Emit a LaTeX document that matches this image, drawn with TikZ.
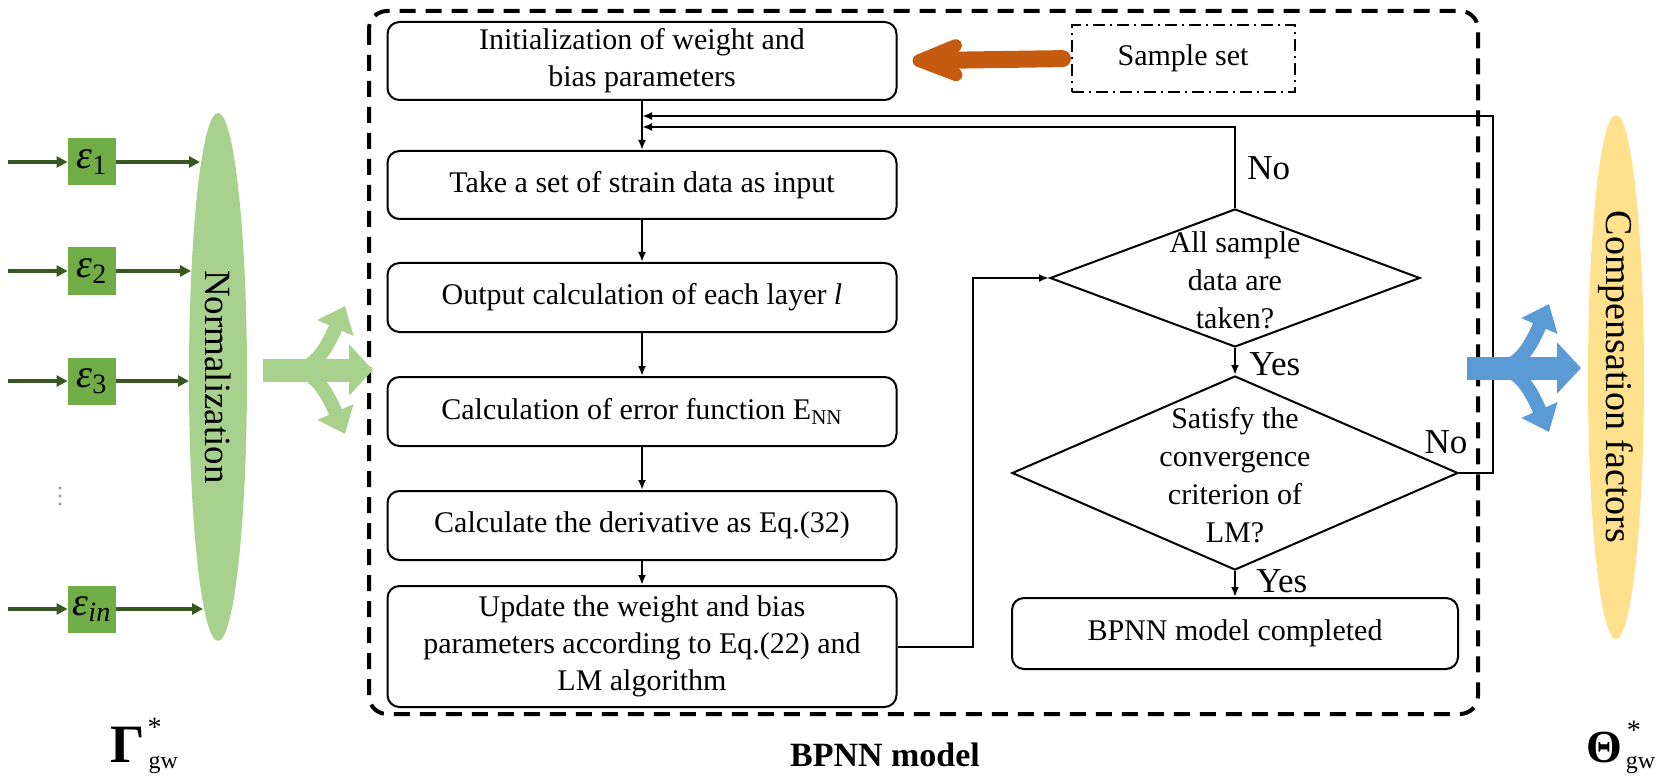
\documentclass[tikz,border=0pt]{standalone}
\usepackage{fontspec}
\setmainfont{Liberation Serif}
\usetikzlibrary{arrows.meta,shapes.geometric,calc}
\definecolor{epsfill}{HTML}{70AD47}
\definecolor{epsline}{HTML}{385723}
\definecolor{normfill}{HTML}{A9D18E}
\definecolor{compfill}{HTML}{FFE08C}
\definecolor{bluearr}{HTML}{5B9BD5}
\definecolor{orangearr}{HTML}{C55A11}
\newcommand{\myeps}[1]{{\itshape ε}\textsubscript{#1}}
\tikzset{
  box/.style={draw, rounded corners=6pt, line width=1pt, minimum width=254.5pt, align=center,
    font=\fontsize{15}{18.5}\selectfont, inner sep=0pt},
  dia/.style={draw, diamond, line width=1pt, inner sep=0pt},
  dtext/.style={align=center, font=\fontsize{15}{19}\selectfont, inner sep=0pt},
  flow/.style={line width=1pt, -{Latex[length=5pt,width=4pt]}},
  lbl/.style={font=\fontsize{17.5}{17.5}\selectfont, inner sep=0pt},
  epsbox/.style={fill=epsfill, minimum width=24pt, minimum height=23.5pt, inner sep=0pt,
    font=\fontsize{20}{20}\selectfont},
  garrow/.style={draw=epsline, line width=1.6pt, -{Triangle[length=5.5pt,width=5.5pt]}},
  frame/.style={line width=2pt, dash pattern=on 8pt off 5pt, rounded corners=9pt},
  supl/.style={inner sep=0pt, font=\fontsize{14}{14}\selectfont},
  subl/.style={inner sep=0pt, font=\fontsize{12}{12}\selectfont},
}
\begin{document}
\begin{tikzpicture}[x=0.5pt,y=-0.5pt]
\useasboundingbox (0,0) rectangle (1662,781);

% frame
\draw[frame] (369,11) rectangle (1478,714);

% left column boxes
\node[box, minimum height=39pt] (init) at (642,61) {Initialization of weight and\\bias parameters};
\node[box, minimum height=34pt] (take) at (642,185) {Take a set of strain data as input};
\node[box, minimum height=34.5pt] (out) at (642,297.5) {Output calculation of each layer \textit{l}};
\node[box, minimum height=34.5pt] (err) at (642,411.5) {Calculation of error function E\textsubscript{NN}};
\node[box, minimum height=34.5pt] (der) at (642,525.5) {Calculate the derivative as Eq.(32)};
\node[box, minimum height=60.5pt] (upd) at (642,646.5) {Update the weight and bias\\parameters according to Eq.(22) and\\LM algorithm};

% sample set
\node[draw, line width=1pt, dash pattern=on 6pt off 2.5pt on 1pt off 2.5pt,
  minimum width=111.5pt, minimum height=33.5pt, inner sep=0pt,
  font=\fontsize{15}{15}\selectfont] (sample) at (1183,58.5) {Sample set};
\draw[orangearr, line width=8.5pt, line cap=round, shorten <=4pt, shorten >=7.5pt,
  -{Stealth[length=37pt,width=29pt,inset=12pt,round]}] (sample.west) -- (init.east);

% right column
\node[dia, minimum width=185pt, minimum height=69pt] (d1) at (1235,278) {};
\node[dtext] (d1t) at (1235,280) {All sample\\data are\\taken?};
\node[dia, minimum width=223pt, minimum height=97pt] (d2) at (1235,473) {};
\node[dtext] (d2t) at (1235,475) {Satisfy the\\convergence\\criterion of\\LM?};
\node[box, minimum width=223pt, minimum height=35.5pt] (done) at (1235,633.5) {BPNN model completed};

% flow arrows
\draw[flow] (init.south) -- (take.north);
\draw[flow] (take.south) -- (out.north);
\draw[flow] (out.south) -- (err.north);
\draw[flow] (err.south) -- (der.north);
\draw[flow] (der.south) -- (upd.north);
\coordinate (fx) at (973,0);
\draw[flow] (upd.east) -| (fx |- d1.west) -- (d1.west);
\draw[flow] (d1.south) -- (d2.north);
\draw[flow] (d2.south) -- (done.north);
\coordinate (nn) at (1235,127);
\draw[flow] (d1.north) -- (nn) -- (nn -| init.south);
\coordinate (rr) at (1493,116);
\draw[flow] (d2.east) -| (rr) -- (rr -| init.south);

\node[lbl, anchor=west] (no1) at (1247,168) {No};
\node[lbl] (no2) at (1446,442) {No};
\node[lbl, anchor=west] (yes1) at (1249,364) {Yes};
\node[lbl, anchor=west] (yes2) at (1256,581) {Yes};

% left inputs
\node[epsbox] (e1) at (92,162) {\myeps{1}};
\node[epsbox] (e2) at (92,271) {\myeps{2}};
\node[epsbox] (e3) at (92,381) {\myeps{3}};
\node[epsbox] (e4) at (92,609) {\myeps{\itshape in}};
\foreach \yy in {488,496,504}{\fill[gray!80] (60,\yy) circle (0.8pt);}

\node[ellipse, fill=normfill, minimum width=29pt, minimum height=264pt, inner sep=0pt] (norm) at (218,377) {};
\node[rotate=-90, font=\fontsize{18.5}{18.5}\selectfont] (normt) at (norm.center) {Normalization};

\coordinate (i1) at (8,162); \coordinate (i2) at (8,271);
\coordinate (i3) at (8,381); \coordinate (i4) at (8,609);
\coordinate (a1) at (200,162); \coordinate (a2) at (191,271);
\coordinate (a3) at (189,381); \coordinate (a4) at (203,609);
\foreach \k in {1,2,3,4}{
  \draw[garrow] (i\k) -- (e\k.west);
  \draw[garrow] (e\k.east) -- (a\k);
}

% green fork arrow
\draw[normfill, line width=11.5pt, -{Triangle[length=12pt,width=25pt]}] (263,370) -- (373,370);
\draw[normfill, line width=7pt, -{Triangle[length=12pt,width=19pt]}] (292,370) .. controls (316,370) and (328,345) .. (345,306);
\draw[normfill, line width=7pt, -{Triangle[length=12pt,width=19pt]}] (292,370) .. controls (316,370) and (328,395) .. (345,434);

% compensation
\node[ellipse, fill=compfill, minimum width=28pt, minimum height=262pt, inner sep=0pt] (comp) at (1616,377) {};
\node[rotate=-90, font=\fontsize{19}{19}\selectfont] (compt) at (comp.center) {Compensation factors};

% blue fork arrow
\draw[bluearr, line width=11.5pt, -{Triangle[length=12pt,width=25pt]}] (1467,368) -- (1581,368);
\draw[bluearr, line width=7pt, -{Triangle[length=12pt,width=19pt]}] (1496,368) .. controls (1520,368) and (1532,343) .. (1549,304);
\draw[bluearr, line width=7pt, -{Triangle[length=12pt,width=19pt]}] (1496,368) .. controls (1520,368) and (1532,393) .. (1549,432);

% bottom labels
\node[anchor=base west, inner sep=0pt, font=\fontsize{27}{27}\selectfont\bfseries] (gam) at (110,762) {Γ};
\node[supl, anchor=north west] (gams) at ([xshift=1pt,yshift=4pt]gam.north east) {*};
\node[subl, anchor=base west] (gamw) at ([xshift=1.5pt,yshift=-3pt]gam.base east) {gw};
\node[anchor=base west, inner sep=0pt, font=\fontsize{23}{23}\selectfont\bfseries] (the) at (1586,762) {Θ};
\node[supl, anchor=north west] (thes) at ([xshift=2pt,yshift=5pt]the.north east) {*};
\node[subl, anchor=base west] (thew) at ([xshift=1.5pt,yshift=-3pt]the.base east) {gw};
\node[font=\fontsize{17}{17}\selectfont\bfseries] (bpnn) at (885,755) {BPNN model};
\end{tikzpicture}
\end{document}
